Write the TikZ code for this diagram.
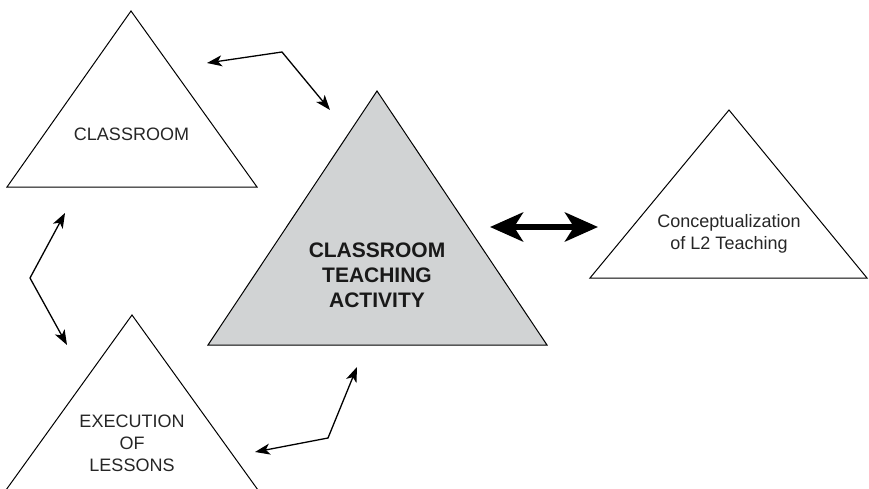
\documentclass[tikz,border=0pt]{standalone}
\usepackage{fontspec}
\setmainfont{Liberation Sans}
\usetikzlibrary{arrows.meta}
\definecolor{trigray}{RGB}{209,211,212}
\begin{document}
\begin{tikzpicture}[x=1pt,y=-1pt,
  tri/.style={draw=black,line width=1pt,line join=miter},
  thinhead/.style={},
  thinarrow/.style={line width=1.3pt,{Stealth[length=15pt,width=11pt,inset=4pt]}-{Stealth[length=15pt,width=11pt,inset=4pt]}},
  thickarrow/.style={line width=6pt,{Stealth[length=33pt,width=29pt,inset=9pt]}-{Stealth[length=33pt,width=29pt,inset=9pt]}},
  lbl/.style={align=center,font=\fontsize{18}{22}\selectfont,inner sep=0pt,text=black!85},
  blbl/.style={align=center,font=\fontsize{21}{25}\selectfont\bfseries,inner sep=0pt,text=black!90}]
\useasboundingbox (0,0) rectangle (869,489);
\clip (0,0) rectangle (869,489);

% triangles
\draw[tri] (131,11) -- (257,187) -- (7,187) -- cycle;
\draw[tri,fill=trigray] (377,91) -- (547,345) -- (208,345) -- cycle;
\draw[tri] (729,110) -- (867,278) -- (590,278) -- cycle;
\draw[tri] (132,315) -- (261.6,495) -- (2.4,495) -- cycle;

% labels
\node[lbl] (classroom) at (131.5,134) {CLASSROOM};
\node[blbl] (activity) at (377,275) {CLASSROOM\\TEACHING\\ACTIVITY};
\node[lbl] (concept) at (729,234) {Conceptualization\\of L2 Teaching};
\node[lbl] (execution) at (132,443) {EXECUTION\\OF\\LESSONS};

% arrow coordinates
\coordinate (a1) at (207,63);
\coordinate (b1) at (282,52);
\coordinate (c1) at (330,110);
\coordinate (a2) at (65,213);
\coordinate (b2) at (30,278);
\coordinate (c2) at (67,345);
\coordinate (a3) at (357,367);
\coordinate (b3) at (328,438);
\coordinate (c3) at (255,452);
\coordinate (d1) at (490,227);
\coordinate (d2) at (598,227);

\draw[thinarrow] (a1) -- (b1) -- (c1);
\draw[thinarrow] (a2) -- (b2) -- (c2);
\draw[thinarrow] (a3) -- (b3) -- (c3);
\draw[thickarrow] (d1) -- (d2);
\end{tikzpicture}
\end{document}
